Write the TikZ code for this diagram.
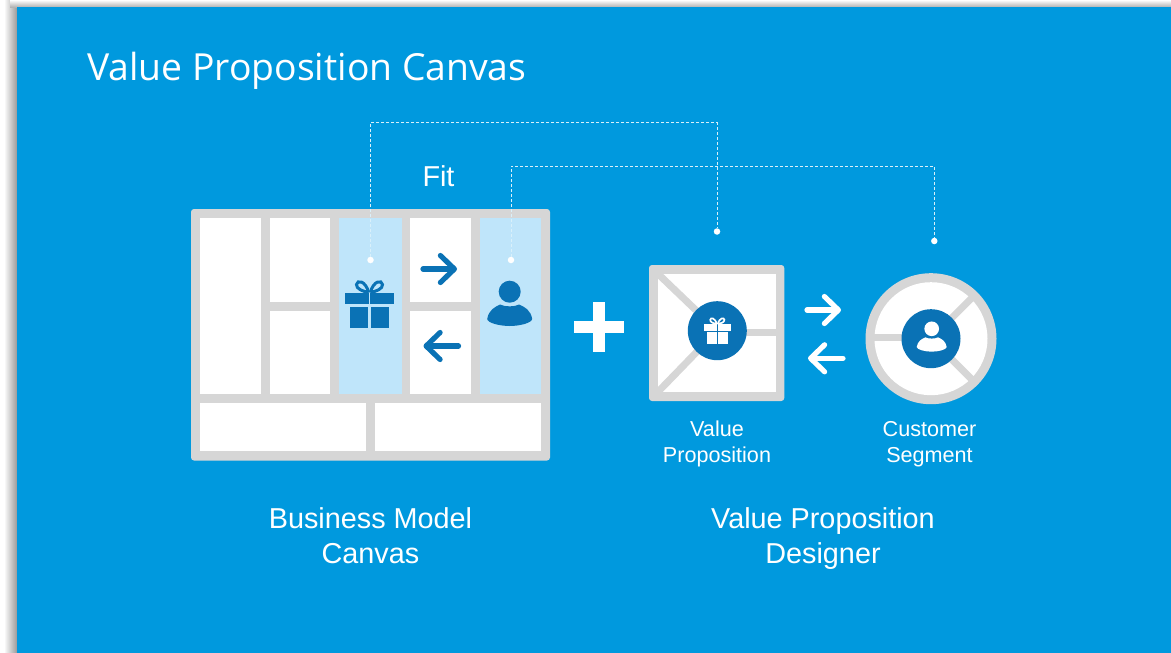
\documentclass[tikz,border=0pt]{standalone}
\usepackage{fontspec}
\setmainfont{Liberation Sans}
\newfontfamily\titlefont{Open Sans}
\usetikzlibrary{arrows.meta}
\definecolor{slideblue}{RGB}{0,153,222}
\definecolor{iconblue}{RGB}{10,114,181}
\definecolor{cellblue}{RGB}{191,229,250}
\definecolor{framegrey}{RGB}{214,214,214}
\tikzset{
  cell/.style={fill=white},
  hicell/.style={fill=cellblue},
  frame/.style={fill=framegrey, rounded corners=3},
  spoke/.style={draw=framegrey, line width=7},
  fitline/.style={draw=white!85!slideblue, line width=0.7, dash pattern=on 3 off 2},
  fitdot/.style={circle, fill=white, inner sep=0, minimum size=6.5},
  disc/.style={circle, fill=iconblue, inner sep=0, minimum size=59},
  flowarrow/.style={line width=5.2, line cap=round, -{Straight Barb[round, length=14, width=27]}},
  bigtext/.style={text=white, align=center, font=\fontsize{28.8}{35}\selectfont},
  smalltext/.style={text=white, align=center, font=\fontsize{21.6}{26}\selectfont}
}
\newcommand{\gifticon}[4]{
  \begin{scope}[shift={(#1,#2)}, scale=#3]
  \fill [#4] (-24.5,-17.3) rectangle (-0.4,-5.7);
  \fill [#4] (0.4,-17.3) rectangle (24.5,-5.7);
  \fill [#4] (-19.8,-2.7) rectangle (-1.2,18);
  \fill [#4] (1.2,-2.7) rectangle (19.8,18);
  \draw [#4, line width=#3*3] (-0.8,-17.5) .. controls (-6,-18.5) and (-13.5,-21) .. (-13,-25.5) .. controls (-12.5,-30.5) and (-4,-29.5) .. (-0.8,-17.5);
  \draw [#4, line width=#3*3] (0.8,-17.5) .. controls (6,-18.5) and (13.5,-21) .. (13,-25.5) .. controls (12.5,-30.5) and (4,-29.5) .. (0.8,-17.5);
  \end{scope}
}
\newcommand{\personicon}[4]{
  \begin{scope}[shift={(#1,#2)}, scale=#3]
  \fill [#4] (0,-18.3) circle (11);
  \fill [#4] (-22.5,9) .. controls (-21,0) and (-15,-3) .. (-9.5,-5.5) .. controls (-5,-3) and (5,-3) .. (9.5,-5.5) .. controls (15,-3) and (21,0) .. (22.5,9) .. controls (22,13) and (10,16) .. (0,16) .. controls (-10,16) and (-22,13) .. (-22.5,9) -- cycle;
  \end{scope}
}
\begin{document}
\begin{tikzpicture}[x=1pt, y=-1pt]
\useasboundingbox (0,0) rectangle (1171,653);
\fill [white] (0,0) rectangle (1171,653);
\shade [left color=white, right color=black!40] (4,0) rectangle (17,653);
\shade [top color=white, bottom color=black!30] (10,0) rectangle (1171,7);
\fill [slideblue] (17,7) rectangle (1171,653);
\node [anchor=base west, inner sep=0, text=white, font=\titlefont\fontsize{37.3}{44}\selectfont] (title) at (87,80) {Value Proposition Canvas};

\fill [frame] (191,209) rectangle (550,460.5);
\fill [cell] (200,217.7) rectangle (260.7,394);
\fill [cell] (270,217.7) rectangle (330.3,302);
\fill [cell] (270,311) rectangle (330.3,394);
\fill [hicell] (339.3,217.7) rectangle (401.7,394);
\fill [cell] (410.3,217.7) rectangle (471,302);
\fill [cell] (410.3,311) rectangle (471,394);
\fill [hicell] (480,217.7) rectangle (540.7,394);
\fill [cell] (200,403.3) rectangle (366,451.3);
\fill [cell] (375.3,403.3) rectangle (540.7,451.3);
\gifticon{369.5}{310}{1}{iconblue}
\personicon{509.7}{310}{1}{iconblue}
\coordinate (kpa) at (423,269);
\coordinate (kpb) at (457,269);
\coordinate (kpc) at (458.5,346);
\coordinate (kpd) at (423.5,346);
\draw [flowarrow, iconblue] (kpa) -- (kpb);
\draw [flowarrow, iconblue] (kpc) -- (kpd);

\fill [white] (593,302) rectangle (605,352);
\fill [white] (574,321) rectangle (624,333);

\fill [frame] (649,265) rectangle (784.3,401);
\fill [cell] (658.3,274) rectangle (775.7,392);
\coordinate (vphub) at (717.3,330.7);
\coordinate (vpa) at (654,270);
\coordinate (vpb) at (654,396);
\coordinate (vpc) at (778,332.7);
\draw [spoke] (vpa) -- (vphub);
\draw [spoke] (vpb) -- (vphub);
\draw [spoke] (vpc) -- (vphub |- vpc);
\node [disc] (vpdisc) at (vphub) {};
\gifticon{717.3}{333.7}{0.545}{white}

\coordinate (pga) at (807,310);
\coordinate (pgb) at (841,310);
\coordinate (pgc) at (843,358.3);
\coordinate (pgd) at (808,358.3);
\draw [flowarrow, white] (pga) -- (pgb);
\draw [flowarrow, white] (pgc) -- (pgd);

\fill [framegrey] (931,338.7) circle (65.5);
\fill [white] (931,338.7) circle (56.5);
\coordinate (cshub) at (931,338.7);
\coordinate (csa) at (975,294.7);
\coordinate (csb) at (975,382.7);
\coordinate (csc) at (870,337);
\draw [spoke] (csa) -- (cshub);
\draw [spoke] (csb) -- (cshub);
\draw [spoke] (csc) -- (cshub |- csc);
\node [disc] (csdisc) at (cshub) {};
\personicon{931.7}{341}{0.667}{white}

\node [fitdot] (giftdot) at (370.5,260) {};
\node [fitdot] (persondot) at (511,260) {};
\node [fitdot] (vpdot) at (717,231.5) {};
\node [fitdot] (csdot) at (934.3,241) {};
\coordinate (fita) at (370.5,122.5);
\coordinate (fitb) at (511,166);
\draw [fitline] (giftdot) -- (fita) -| (vpdot);
\draw [fitline] (persondot) -- (fitb) -| (csdot);

\node [bigtext] (fitlabel) at (438.5,176.5) {Fit};
\node [bigtext] (bmc) at (370.5,535.5) {Business Model\\Canvas};
\node [bigtext] (vpd) at (823,538.5) {Value Proposition\\Designer};
\node [smalltext] (vplabel) at (717,444) {Value\\Proposition};
\node [smalltext] (cslabel) at (929.5,444) {Customer\\Segment};
\end{tikzpicture}
\end{document}
